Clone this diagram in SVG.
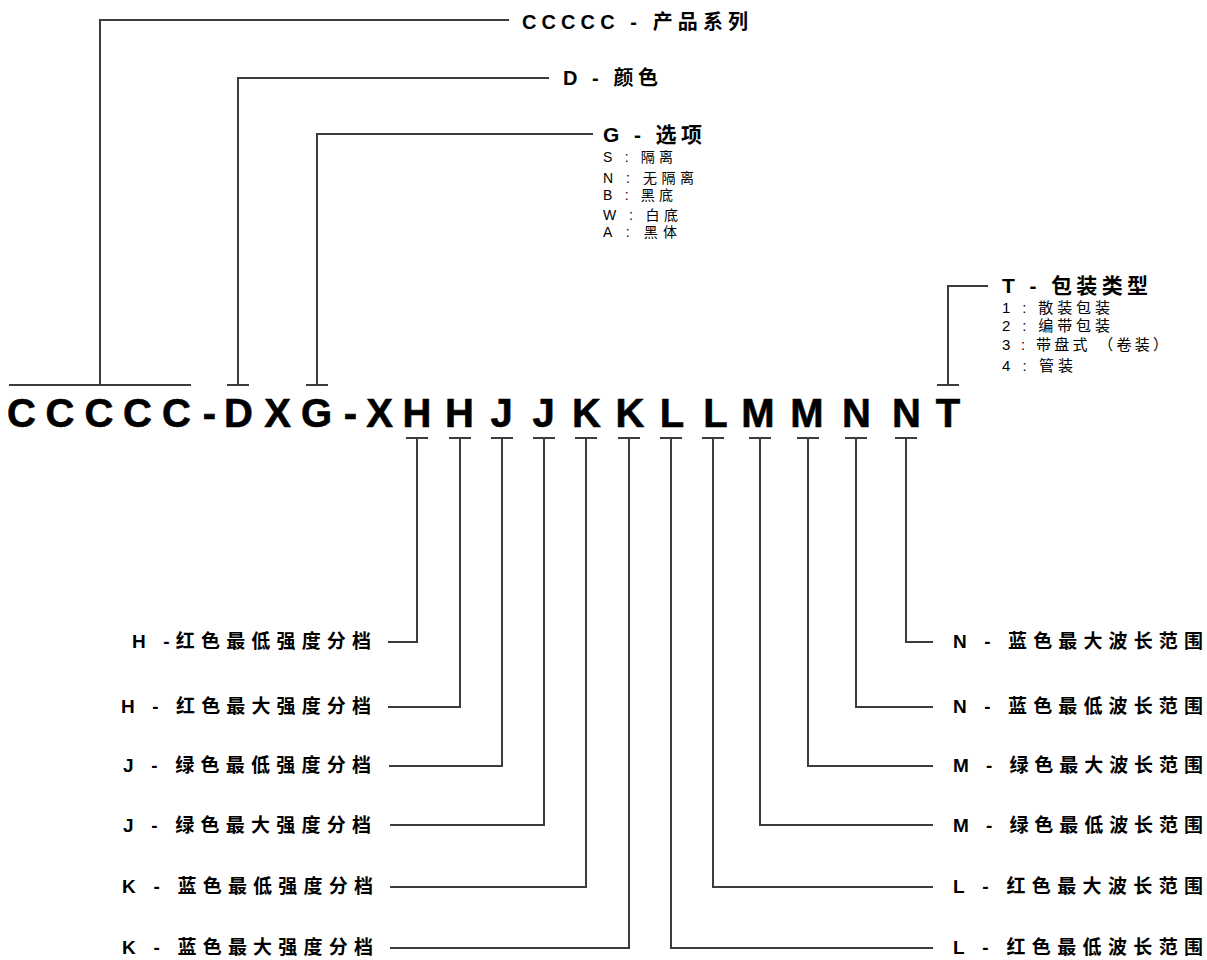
<svg xmlns="http://www.w3.org/2000/svg" width="1207" height="960" viewBox="0 0 1207 960">
<style>
.ln{fill:none;stroke:#3c3c3c;stroke-width:2;stroke-linecap:square}
.code{font-family:"Liberation Sans","Noto Sans CJK SC",sans-serif;font-weight:bold;font-size:40px;fill:#000;text-anchor:middle;stroke:#000;stroke-width:0.6}
.ttl{font-family:"Liberation Sans","Noto Sans CJK SC",sans-serif;font-weight:bold;font-size:20px;fill:#000}
.big{font-size:21px}
.opt{font-family:"Liberation Sans","Noto Sans CJK SC",sans-serif;font-size:14px;fill:#000}
.opt14{font-size:15px}
.lab{font-family:"Liberation Sans","Noto Sans CJK SC",sans-serif;font-weight:bold;font-size:19px;fill:#000}
</style>
<rect width="1207" height="960" fill="#fff"/>
<g id="connectors">
<path class="ln" d="M508 20H100V385M10 385H190"/>
<path class="ln" d="M548 78H238V385M228 385H248"/>
<path class="ln" d="M592 134H317V385M307 385H327"/>
<path class="ln" d="M987 286H948V385M938 385H958"/>
<path class="ln" d="M407 438H427M417 438V642H389"/>
<path class="ln" d="M450 438H470M460 438V707H389"/>
<path class="ln" d="M492 438H512M502 438V766H390"/>
<path class="ln" d="M534 438H554M544 438V825H391"/>
<path class="ln" d="M576 438H596M586 438V887H391"/>
<path class="ln" d="M619 438H639M629 438V948H391"/>
<path class="ln" d="M661 438H681M671 438V948H932"/>
<path class="ln" d="M703 438H723M713 438V887H932"/>
<path class="ln" d="M750 438H770M760 438V825H932"/>
<path class="ln" d="M798 438H818M808 438V766H932"/>
<path class="ln" d="M846 438H866M856 438V707H932"/>
<path class="ln" d="M896 438H916M906 438V642H932"/>
</g>
<g id="code">
<text class="code" y="427" x="21.5 60 99 137.5 176.5 209.5 238.5 277.5 316.5 350.5 379.5 417 459.5 501.5 543.5 586.5 630 672 715.5 758 807 856.5 906.5 948">CCCCC-DXG-XHHJJKKLLMMNNT</text>
</g>
<g id="series"><text class="ttl" x="522" y="29" textLength="226">CCCCC - 产品系列</text></g>
<g id="color"><text class="ttl" x="563" y="85" textLength="95">D - 颜色</text></g>
<g id="options">
<text class="ttl big" x="603" y="142" textLength="99">G - 选项</text>
<text class="opt" x="603" y="162" textLength="70">S : 隔离</text>
<text class="opt" x="603" y="183" textLength="91">N : 无隔离</text>
<text class="opt" x="603" y="200" textLength="70">B : 黑底</text>
<text class="opt" x="603" y="220" textLength="75">W : 白底</text>
<text class="opt" x="603" y="237" textLength="74">A : 黑体</text>
</g>
<g id="package">
<text class="ttl big" x="1002" y="293" textLength="146">T - 包装类型</text>
<text class="opt opt14" x="1002" y="313" textLength="108">1 : 散装包装</text>
<text class="opt opt14" x="1002" y="331" textLength="108">2 : 编带包装</text>
<text class="opt opt14" x="1002" y="350" textLength="166">3 : 带盘式 （卷装）</text>
<text class="opt opt14" x="1002" y="371" textLength="71">4 : 管装</text>
</g>
<g id="h-min"><text class="lab" x="132" y="648" textLength="239">H -红色最低强度分档</text></g>
<g id="h-max"><text class="lab" x="121" y="713" textLength="250">H - 红色最大强度分档</text></g>
<g id="j-min"><text class="lab" x="123" y="772" textLength="248">J - 绿色最低强度分档</text></g>
<g id="j-max"><text class="lab" x="123" y="832" textLength="248">J - 绿色最大强度分档</text></g>
<g id="k-min"><text class="lab" x="122" y="893" textLength="251">K - 蓝色最低强度分档</text></g>
<g id="k-max"><text class="lab" x="122" y="954" textLength="251">K - 蓝色最大强度分档</text></g>
<g id="n-max"><text class="lab" x="953" y="648" textLength="250">N - 蓝色最大波长范围</text></g>
<g id="n-min"><text class="lab" x="953" y="713" textLength="250">N - 蓝色最低波长范围</text></g>
<g id="m-max"><text class="lab" x="953" y="772" textLength="250">M - 绿色最大波长范围</text></g>
<g id="m-min"><text class="lab" x="953" y="832" textLength="250">M - 绿色最低波长范围</text></g>
<g id="l-max"><text class="lab" x="953" y="893" textLength="250">L - 红色最大波长范围</text></g>
<g id="l-min"><text class="lab" x="953" y="954" textLength="250">L - 红色最低波长范围</text></g>
</svg>
